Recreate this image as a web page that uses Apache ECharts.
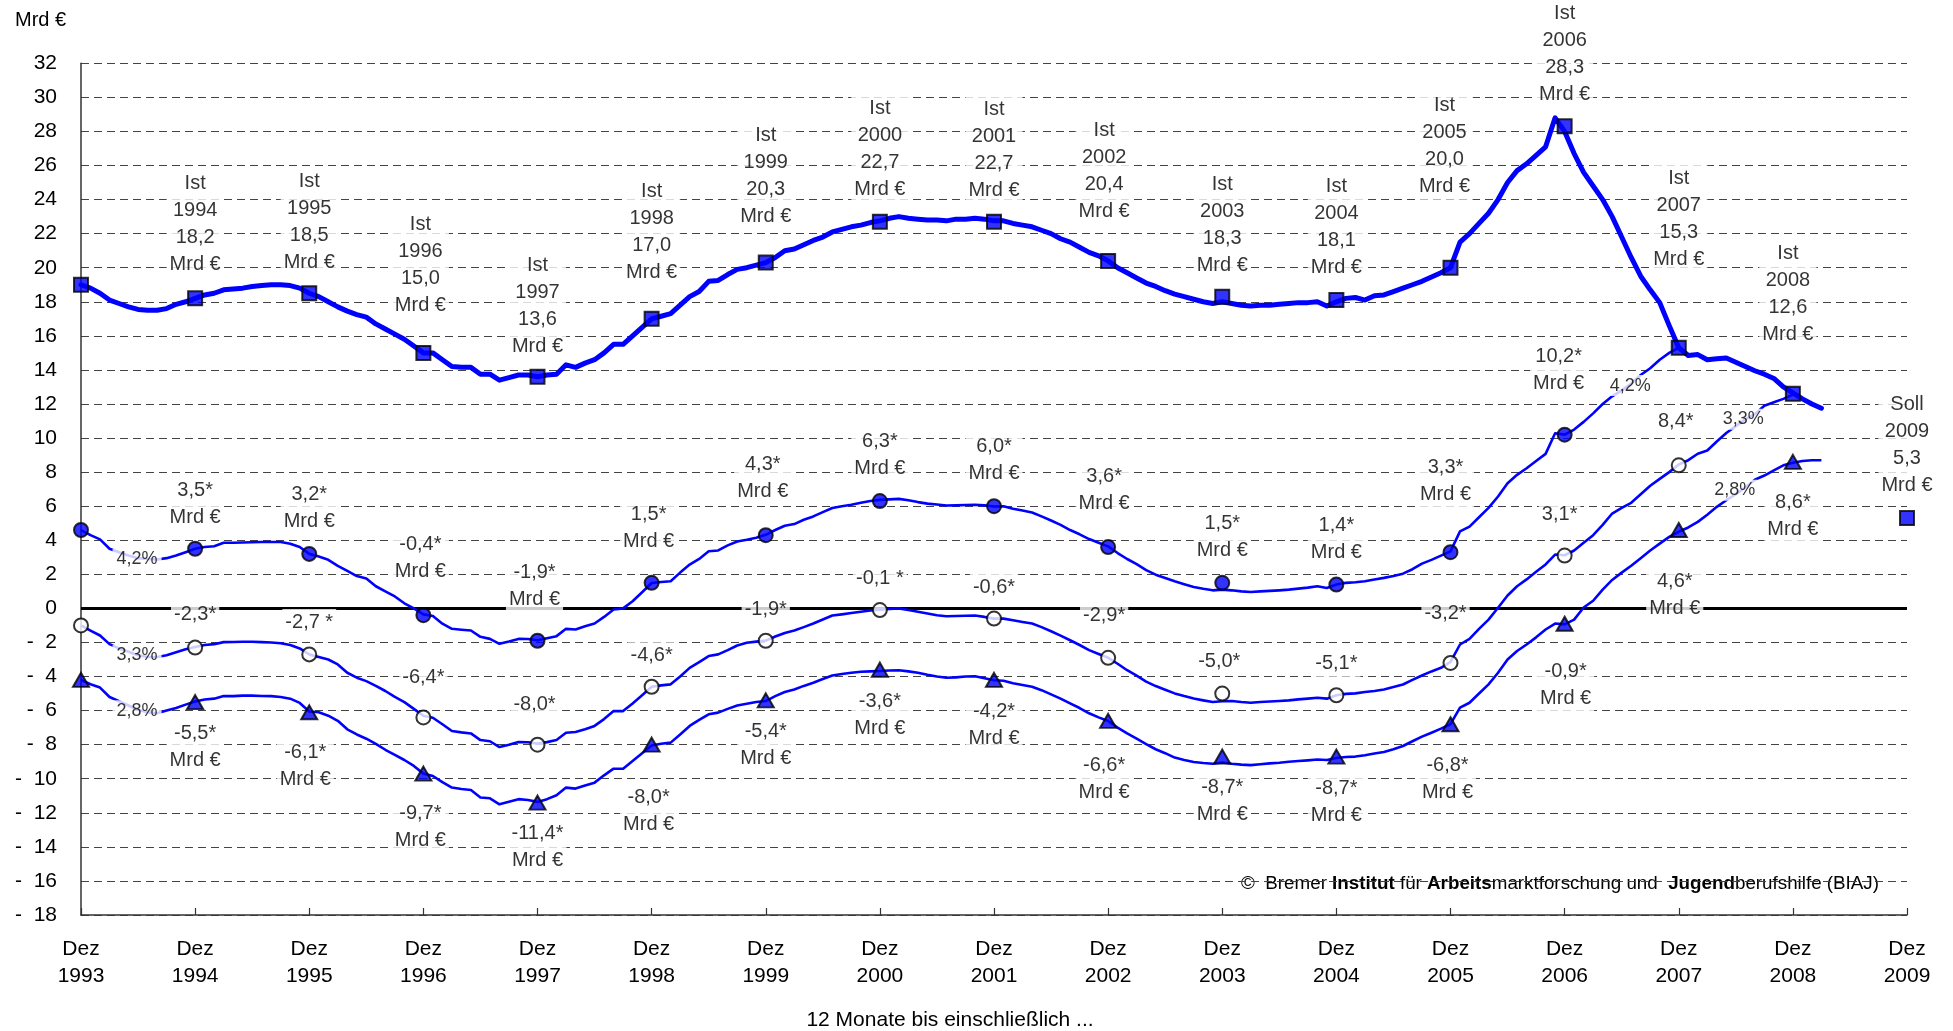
<!DOCTYPE html>
<html>
<head>
<meta charset="utf-8">
<script src="https://cdn.jsdelivr.net/npm/echarts@6/dist/echarts.min.js"></script>
<style>
  html, body { margin: 0; padding: 0; background: #fff; }
  #chart { width: 1953px; height: 1031px; }
</style>
</head>
<body>
<div id="chart"></div>
<script>
// ---------------- DATA ----------------
// Monthly 12-month values, index 0 = Dez 1993, one value per month
const mainMonthly = [
  19.0, 18.8, 18.5, 18.1, 17.9, 17.7, 17.55, 17.5, 17.5, 17.6, 17.85, 18.0,
  18.2, 18.4, 18.5, 18.7, 18.75, 18.8, 18.9, 18.95, 19.0, 19.0, 18.95, 18.8,
  18.5, 18.3, 18.0, 17.7, 17.45, 17.25, 17.1, 16.7, 16.4, 16.1, 15.8, 15.4,
  15.0, 15.0, 14.6, 14.2, 14.15, 14.15, 13.75, 13.75, 13.4, 13.55, 13.7, 13.7,
  13.6, 13.7, 13.75, 14.3, 14.15, 14.4, 14.6, 15.0, 15.5, 15.5, 16.0, 16.5,
  17.0, 17.15, 17.3, 17.8, 18.3, 18.6, 19.2, 19.25, 19.6, 19.9, 20.0, 20.15,
  20.3, 20.6, 21.0, 21.1, 21.35, 21.6, 21.8, 22.1, 22.25, 22.4, 22.5, 22.65,
  22.75, 22.9, 23.0, 22.9, 22.85, 22.8, 22.8, 22.75, 22.85, 22.85, 22.9, 22.85,
  22.75, 22.75, 22.6, 22.5, 22.4, 22.2, 22.0, 21.7, 21.5, 21.2, 20.9, 20.7,
  20.4, 20.0, 19.7, 19.4, 19.1, 18.9, 18.65, 18.45, 18.3, 18.15, 18.0, 17.9,
  18.0, 17.9, 17.8, 17.75, 17.8, 17.8, 17.85, 17.9, 17.95, 17.95, 18.0, 17.75,
  18.0, 18.2, 18.25, 18.1, 18.35, 18.4, 18.6, 18.8, 19.0, 19.2, 19.45, 19.7,
  20.0, 21.5, 22.0, 22.6, 23.2, 24.0, 25.0, 25.7, 26.1, 26.6, 27.1, 28.8,
  28.0, 26.7, 25.6, 24.8, 24.0, 23.0, 21.8, 20.6, 19.5, 18.7, 17.95, 16.6,
  15.3, 14.85, 14.9, 14.6, 14.65, 14.7, 14.45, 14.2, 13.95, 13.75, 13.5, 13.0,
  12.65, 12.3, 12.0, 11.75
];
const rate42Monthly = [
  4.6, 4.3, 4.05, 3.5, 3.3, 3.1, 2.95, 2.9, 2.87, 2.95, 3.1, 3.3,
  3.5, 3.6, 3.65, 3.85, 3.85, 3.87, 3.88, 3.9, 3.9, 3.9, 3.8, 3.6,
  3.2, 3.05, 2.85, 2.5, 2.2, 1.9, 1.75, 1.3, 1.0, 0.7, 0.3, 0.0,
  -0.35, -0.45, -0.9, -1.2, -1.25, -1.3, -1.67, -1.79, -2.08, -1.95, -1.79, -1.8,
  -1.87, -1.75, -1.63, -1.2, -1.24, -1.05, -0.89, -0.5, -0.07, 0.0, 0.42, 0.95,
  1.49, 1.55, 1.59, 2.1, 2.57, 2.9, 3.35, 3.4, 3.7, 3.93, 4.03, 4.15,
  4.32, 4.6, 4.85, 4.95, 5.2, 5.4, 5.65, 5.89, 6.0, 6.08, 6.2, 6.3,
  6.37, 6.4, 6.43, 6.35, 6.24, 6.15, 6.1, 6.04, 6.05, 6.07, 6.08, 6.05,
  5.98, 6.0, 5.85, 5.75, 5.63, 5.4, 5.16, 4.9, 4.6, 4.35, 4.07, 3.85,
  3.64, 3.25, 2.9, 2.6, 2.25, 1.98, 1.78, 1.59, 1.42, 1.26, 1.15, 1.06,
  1.1, 1.06, 1.0, 0.96, 1.0, 1.03, 1.06, 1.1, 1.16, 1.22, 1.3, 1.2,
  1.4, 1.5, 1.53, 1.59, 1.7, 1.79, 1.9, 2.04, 2.3, 2.63, 2.85, 3.1,
  3.35, 4.52, 4.8, 5.35, 5.9, 6.57, 7.35, 7.84, 8.23, 8.65, 9.07, 10.28,
  10.2, 10.5, 10.95, 11.45, 12.0, 12.45, 12.8, 13.2, 13.7, 14.1, 14.6, 15.0,
  15.3
];
const rate33Monthly = [
  -1.0, -1.3, -1.59, -2.1, -2.35, -2.55, -2.75, -2.85, -2.85, -2.75, -2.57, -2.4,
  -2.27, -2.15, -2.1, -1.98, -1.97, -1.96, -1.96, -1.98, -2.0, -2.05, -2.15, -2.35,
  -2.7, -2.85, -3.0, -3.29, -3.78, -4.07, -4.27, -4.55, -4.85, -5.2, -5.5, -5.9,
  -6.3, -6.42, -6.8, -7.2, -7.28, -7.34, -7.73, -7.8, -8.14, -8.0, -7.84, -7.86,
  -7.94, -7.85, -7.73, -7.3, -7.26, -7.1, -6.9, -6.5, -6.03, -6.03, -5.58, -5.1,
  -4.6, -4.52, -4.46, -4.0, -3.49, -3.15, -2.8, -2.7, -2.45, -2.18, -2.02, -1.95,
  -1.89, -1.65, -1.44, -1.3, -1.1, -0.89, -0.65, -0.42, -0.35, -0.27, -0.2, -0.12,
  -0.07, -0.03, 0.0, -0.1, -0.2, -0.3, -0.4, -0.46, -0.45, -0.43, -0.42, -0.5,
  -0.6, -0.6, -0.7, -0.8, -0.89, -1.1, -1.34, -1.6, -1.87, -2.15, -2.45, -2.68,
  -2.9, -3.25, -3.63, -3.95, -4.3, -4.56, -4.78, -4.99, -5.15, -5.29, -5.4, -5.5,
  -5.45, -5.44, -5.5, -5.54, -5.5, -5.47, -5.44, -5.4, -5.34, -5.3, -5.25, -5.3,
  -5.1, -5.02, -4.99, -4.91, -4.85, -4.76, -4.62, -4.47, -4.2, -3.94, -3.7, -3.49,
  -3.14, -2.12, -1.79, -1.2, -0.66, 0.04, 0.76, 1.3, 1.7, 2.15, 2.58, 3.16,
  3.12, 3.4, 3.85, 4.3, 4.9, 5.57, 5.9, 6.2, 6.7, 7.2, 7.6, 8.0,
  8.45, 8.7, 9.08, 9.27, 9.8, 10.3, 10.7, 11.1, 11.4, 11.9, 12.1, 12.3,
  12.55
];
const rate28Monthly = [
  -4.2, -4.45, -4.65, -5.2, -5.45, -5.7, -5.95, -6.1, -6.15, -6.0, -5.85, -5.65,
  -5.47, -5.35, -5.3, -5.15, -5.15, -5.12, -5.12, -5.14, -5.15, -5.2, -5.3, -5.55,
  -6.05, -6.1, -6.3, -6.6, -7.1, -7.4, -7.65, -7.95, -8.3, -8.6, -8.9, -9.25,
  -9.7, -9.84, -10.2, -10.52, -10.6, -10.66, -11.1, -11.15, -11.5, -11.35, -11.2, -11.25,
  -11.36, -11.2, -10.97, -10.52, -10.58, -10.4, -10.23, -9.8, -9.41, -9.41, -8.96, -8.5,
  -8.05, -7.95, -7.88, -7.4, -6.9, -6.55, -6.22, -6.12, -5.9, -5.7, -5.6, -5.5,
  -5.44, -5.15, -4.91, -4.76, -4.55, -4.37, -4.15, -3.94, -3.85, -3.78, -3.72, -3.7,
  -3.68, -3.65, -3.63, -3.7, -3.78, -3.9, -4.0, -4.07, -4.05, -4.0, -3.98, -4.1,
  -4.22, -4.25, -4.4, -4.5, -4.6, -4.8, -5.05, -5.3, -5.58, -5.85, -6.16, -6.4,
  -6.61, -7.0, -7.34, -7.65, -7.97, -8.27, -8.5, -8.76, -8.9, -9.02, -9.08, -9.12,
  -9.05, -9.12, -9.17, -9.2, -9.15, -9.1, -9.06, -9.0, -8.96, -8.92, -8.87, -8.9,
  -8.78, -8.72, -8.7, -8.62, -8.52, -8.43, -8.27, -8.08, -7.8, -7.53, -7.3, -7.06,
  -6.8, -5.83, -5.54, -5.0, -4.46, -3.78, -3.0, -2.5, -2.12, -1.7, -1.24, -0.89,
  -0.94, -0.66, 0.05, 0.45, 1.1, 1.67, 2.1, 2.5, 2.95, 3.4, 3.8, 4.2,
  4.5, 4.75, 5.08, 5.5, 5.96, 6.35, 6.7, 7.1, 7.55, 7.8, 8.1, 8.4,
  8.55, 8.65, 8.7, 8.7
];

// Annual (Dezember) values
const markerYears = [1993, 1994, 1995, 1996, 1997, 1998, 1999, 2000, 2001, 2002, 2003, 2004, 2005, 2006, 2007, 2008];
const istValues    = [19.0, 18.2, 18.5, 15.0, 13.6, 17.0, 20.3, 22.7, 22.7, 20.4, 18.3, 18.1, 20.0, 28.3, 15.3, 12.6];
const rate42Values = [4.6, 3.5, 3.2, -0.4, -1.9, 1.5, 4.3, 6.3, 6.0, 3.6, 1.5, 1.4, 3.3, 10.2];
const rate33Values = [-1.0, -2.3, -2.7, -6.4, -8.0, -4.6, -1.9, -0.1, -0.6, -2.9, -5.0, -5.1, -3.2, 3.1, 8.4];
const rate28Values = [-4.2, -5.5, -6.1, -9.7, -11.4, -8.0, -5.4, -3.6, -4.2, -6.6, -8.7, -8.7, -6.8, -0.9, 4.6, 8.6];
const sollYear = 2009;
const sollValue = 5.3;
const rateNames = ['4,2%', '3,3%', '2,8%'];
const xTickYears = [1993, 1994, 1995, 1996, 1997, 1998, 1999, 2000, 2001, 2002, 2003, 2004, 2005, 2006, 2007, 2008, 2009];

// ---------------- LAYOUT (label offsets in px, not data) ----------------
const istLabelOff  = [null, [0,-74], [0,-71], [-3,-88], [0,-71], [0,-87], [0,-87], [0,-73], [0,-72], [-4,-90], [0,-72], [0,-73], [-6,-122], [0,-72], [0,-129], [-5,-100]];
const sollLabelOff = [0, -73];
const r42LabelOff  = [null, [0,-45], [0,-46], [-3,-57], [-3,-55], [-3,-55], [-3,-57], [0,-46], [0,-46], [-4,-57], [0,-46], [0,-46], [-5,-71], [-6,-65]];
const r33LabelOff  = [null, [0,-33], [0,-32], [0,-40], [-3,-40], [0,-31], [0,-31], [0,-32], [0,-31], [-4,-42], [-3,-32], [0,-32], [-5,-49], [-5,-41], [-3,-44]];
const r28LabelOff  = [null, [0,45], [-4,54], [-3,53], [0,44], [-3,66], [0,45], [0,45], [0,45], [-4,58], [0,44], [0,45], [-3,55], [1,61], [-4,65], [0,54]];
// percent tags placed on the thin lines: [line, month index, offset]
const pctTags = [
  [0, 6, [-1, 1]], [1, 6, [-1, 0]], [2, 6, [-1, 1]],
  [0, 163, [-1, 2]], [1, 175, [-2, 0]], [2, 174, [-1, -4]]
];

// ---------------- CHART ----------------
const FONT = "'Liberation Sans', Arial, Helvetica, sans-serif";
const BLUE = '#0000ff';
const monthX = i => 1993 + i / 12;
const toXY = arr => arr.map((v, i) => [monthX(i), v]);
const fmt = v => v.toFixed(1).replace('.', ',');

const labelBase = {
  show: true, position: 'inside', color: '#000', fontSize: 20, lineHeight: 27,
  fontFamily: FONT, backgroundColor: '#fff', padding: [0, 3], textBorderWidth: 0
};

function markerData(values, offs, textFn) {
  return values.map((v, i) => {
    const item = { value: [markerYears[i], v] };
    if (offs[i]) {
      item.label = { show: true, formatter: textFn(markerYears[i], v), offset: offs[i] };
    } else {
      item.label = { show: false };
    }
    return item;
  });
}

const istData = markerData(istValues, istLabelOff, (y, v) => 'Ist\n' + y + '\n' + fmt(v) + '\nMrd €');
istData.push({ value: [sollYear, sollValue], label: { show: true, formatter: 'Soll\n' + sollYear + '\n' + fmt(sollValue) + '\nMrd €', offset: sollLabelOff } });

const r42Data = markerData(rate42Values, r42LabelOff, (y, v) => fmt(v) + '*\nMrd €');
const spacedStar = { 1995: true, 2000: true };
const r33Data = markerData(rate33Values, r33LabelOff, (y, v) => fmt(v) + (spacedStar[y] ? ' *' : '*'));
const r28Data = markerData(rate28Values, r28LabelOff, (y, v) => fmt(v) + '*\nMrd €');

const lineArrays = [rate42Monthly, rate33Monthly, rate28Monthly];
const pctData = pctTags.map(t => ({
  value: [monthX(t[1]), lineArrays[t[0]][t[1]]],
  label: { show: true, formatter: rateNames[t[0]], offset: t[2] }
}));

const chart = echarts.init(document.getElementById('chart'), null, { renderer: 'canvas' });

chart.setOption({
  animation: false,
  backgroundColor: '#fff',
  grid: { left: 81, right: 46, top: 63.3, bottom: 116, containLabel: false },
  xAxis: {
    type: 'value', min: 1993, max: 2009, interval: 1,
    axisLine: { show: true, onZero: false, lineStyle: { color: '#333', width: 1.5 } },
    axisTick: { show: true, inside: true, length: 7, lineStyle: { color: '#333', width: 1.2 } },
    splitLine: { show: false },
    axisLabel: {
      margin: 21, fontSize: 21, lineHeight: 27, color: '#000', fontFamily: FONT,
      formatter: v => (xTickYears.indexOf(Math.round(v)) >= 0 ? 'Dez\n' + Math.round(v) : '')
    }
  },
  yAxis: {
    type: 'value', min: -18, max: 32, interval: 2,
    axisLine: { show: true, lineStyle: { color: '#333', width: 1.5 } },
    axisTick: { show: false },
    splitLine: { show: true, lineStyle: { color: '#444', width: 1, type: [8, 5] } },
    axisLabel: {
      margin: 24, fontSize: 21, color: '#000', fontFamily: FONT,
      formatter: v => (v < 0 ? '-  ' + (-v) : String(v))
    }
  },
  graphic: [
    { type: 'text', left: 15, top: 10, style: { text: 'Mrd €', fontSize: 20, fontFamily: FONT, fill: '#000' } },
    { type: 'text', x: 950, y: 1020, style: { text: '12 Monate bis einschließlich ...', fontSize: 21, fontFamily: FONT, fill: '#000', align: 'center', verticalAlign: 'middle' } },
    { type: 'text', x: 1879, y: 884, style: {
        text: '©  Bremer {b|Institut} für {b|Arbeits}marktforschung und  {b|Jugend}berufshilfe (BIAJ)',
        fontSize: 18.8, fontFamily: FONT, fill: '#000', align: 'right', verticalAlign: 'middle',
        rich: { b: { fontSize: 18.8, fontFamily: FONT, fontWeight: 'bold', fill: '#000' } }
    } }
  ],
  series: [
    { type: 'line', name: 'zero', data: [[1993, 0], [2009, 0]], symbol: 'none', silent: true, z: 2,
      lineStyle: { color: '#000', width: 3 } },
    { type: 'line', name: 'Ist', data: toXY(mainMonthly), symbol: 'none', z: 3,
      lineStyle: { color: BLUE, width: 5, join: 'round', cap: 'round' } },
    { type: 'line', name: rateNames[0], data: toXY(rate42Monthly), symbol: 'none', z: 3,
      lineStyle: { color: BLUE, width: 2.6, join: 'round' } },
    { type: 'line', name: rateNames[1], data: toXY(rate33Monthly), symbol: 'none', z: 3,
      lineStyle: { color: BLUE, width: 2.6, join: 'round' } },
    { type: 'line', name: rateNames[2], data: toXY(rate28Monthly), symbol: 'none', z: 3,
      lineStyle: { color: BLUE, width: 2.6, join: 'round' } },
    { type: 'scatter', name: 'pct', data: pctData, symbol: 'circle', symbolSize: 1, z: 4, clip: false,
      itemStyle: { color: 'rgba(0,0,0,0)' },
      label: Object.assign({}, labelBase, { fontSize: 18, lineHeight: 21, padding: [0, 4] }) },
    { type: 'scatter', name: 'IstMarker', data: istData, symbol: 'rect', symbolSize: 14, z: 5, clip: false,
      itemStyle: { color: BLUE, borderColor: '#000', borderWidth: 2 }, label: labelBase },
    { type: 'scatter', name: 'r42Marker', data: r42Data, symbol: 'circle', symbolSize: 14, z: 5, clip: false,
      itemStyle: { color: BLUE, borderColor: '#000', borderWidth: 2 }, label: labelBase },
    { type: 'scatter', name: 'r33Marker', data: r33Data, symbol: 'circle', symbolSize: 14, z: 5, clip: false,
      itemStyle: { color: '#fff', borderColor: '#000', borderWidth: 2 }, label: labelBase },
    { type: 'scatter', name: 'r28Marker', data: r28Data, symbol: 'triangle', symbolSize: [16, 14], z: 5, clip: false,
      itemStyle: { color: BLUE, borderColor: '#000', borderWidth: 2 }, label: labelBase }
  ]
});
</script>
</body>
</html>
